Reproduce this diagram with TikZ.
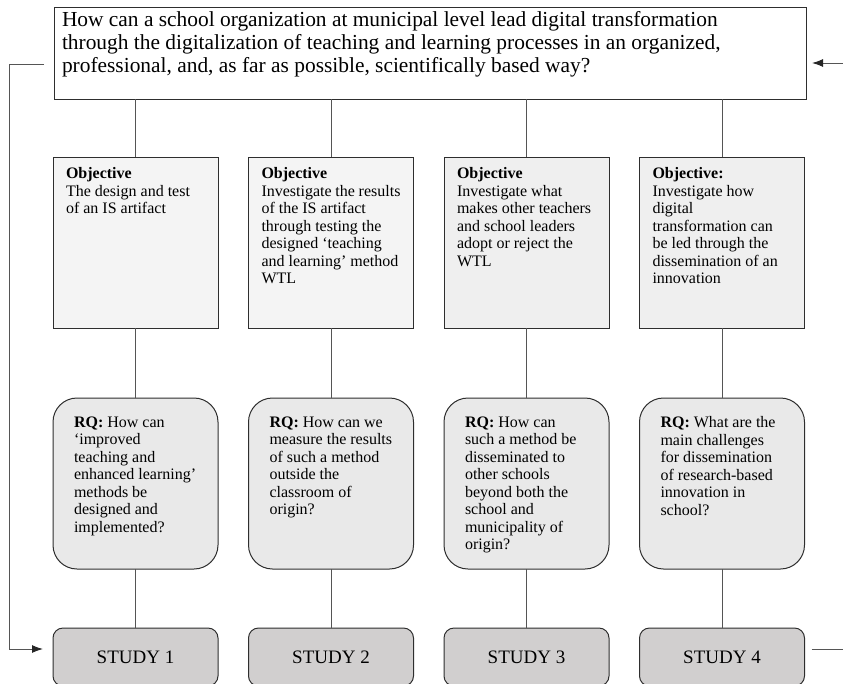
\documentclass[tikz,border=0pt]{standalone}
\usepackage{fontspec}
\setmainfont{Liberation Serif}
\usetikzlibrary{arrows.meta,positioning}
\definecolor{boxline}{HTML}{2E2E2E}
\definecolor{linegray}{HTML}{555555}
\definecolor{objfill}{HTML}{F4F4F4}
\definecolor{objfilldark}{HTML}{EFEFEF}
\definecolor{rqfill}{HTML}{E9E9E9}
\definecolor{studyfill}{HTML}{D1CFCF}

% text blocks, top aligned
\newcommand{\qtext}[1]{\parbox[t][84pt][t]{736pt}{\fontsize{21.4}{23}\selectfont\raggedright #1}}
\newcommand{\objtext}[1]{\parbox[t][150pt][t]{139pt}{\fontsize{16}{17.5}\selectfont\raggedright #1}}
\newcommand{\rqtext}[1]{\parbox[t][134.2pt][t]{123pt}{\fontsize{16}{17.5}\selectfont\raggedright #1}}

\begin{document}
\begin{tikzpicture}[
        x=1pt, y=-1pt,
        every node/.style={outer sep=0pt},
        conn/.style={draw=linegray, line width=1pt},
        loopconn/.style={conn, -{Latex[length=11pt,width=8pt,color=black!85]}},
        qbox/.style={
            draw=boxline, line width=1pt, fill=white,
            anchor=north west, inner xsep=8pt, inner ysep=4pt
        },
        objbox/.style={
            draw=boxline, line width=1pt, fill=objfill,
            inner xsep=13pt, inner ysep=10.5pt
        },
        rqbox/.style={
            draw=boxline, line width=1pt, fill=rqfill,
            rounded corners=24pt, inner xsep=21pt, inner ysep=18.4pt
        },
        studybox/.style={
            draw=boxline, line width=1pt, fill=studyfill,
            rounded corners=10pt, minimum width=165pt, minimum height=58pt,
            font=\fontsize{19}{22}\selectfont
        },
        node distance=30.5pt
    ]

    \useasboundingbox (0,0) rectangle (843,683);
    \clip (0,0) rectangle (843,683);

    % Main question
    \node[qbox] (q) at (54,7) {\qtext{How can a school organization at municipal level lead digital transformation\\
        through the digitalization of teaching and learning processes in an organized,\\
        professional, and, as far as possible, scientifically based way?}};

    % Objectives
    \node[objbox, anchor=north] (obj1) at (135.5,157) {\objtext{\textbf{Objective}\\The design and test\\of an IS artifact}};
    \node[objbox, right=of obj1] (obj2) {\objtext{\textbf{Objective}\\Investigate the results\\of the IS artifact\\through testing the\\designed `teaching\\and learning' method\\WTL}};
    \node[objbox, fill=objfilldark, right=of obj2] (obj3) {\objtext{\textbf{Objective}\\Investigate what\\makes other teachers\\and school leaders\\adopt or reject the\\WTL}};
    \node[objbox, fill=objfilldark, right=of obj3] (obj4) {\objtext{\textbf{Objective:}\\Investigate how\\digital\\transformation can\\be led through the\\dissemination of an\\innovation}};

    % Research questions
    \node[rqbox, below=70pt of obj1] (rq1) {\rqtext{\textbf{RQ:} How can\\`improved\\teaching and\\enhanced learning'\\methods be\\designed and\\implemented?}};
    \node[rqbox, below=70pt of obj2] (rq2) {\rqtext{\textbf{RQ:} How can we\\measure the results\\of such a method\\outside the\\classroom of\\origin?}};
    \node[rqbox, below=70pt of obj3] (rq3) {\rqtext{\textbf{RQ:} How can\\such a method be\\disseminated to\\other schools\\beyond both the\\school and\\municipality of\\origin?}};
    \node[rqbox, below=70pt of obj4] (rq4) {\rqtext{\textbf{RQ:} What are the\\main challenges\\for dissemination\\of research-based\\innovation in\\school?}};

    % Studies
    \node[studybox, below=59pt of rq1] (st1) {STUDY 1};
    \node[studybox, below=59pt of rq2] (st2) {STUDY 2};
    \node[studybox, below=59pt of rq3] (st3) {STUDY 3};
    \node[studybox, below=59pt of rq4] (st4) {STUDY 4};

    % Vertical links
    \foreach \i in {1,...,4} {
        \draw[conn] (obj\i.north |- q.south) -- (obj\i.north);
        \draw[conn] (obj\i) -- (rq\i);
        \draw[conn] (rq\i) -- (st\i);
    }

    % Feedback loops
    \coordinate (leftrail) at (9,0);
    \coordinate (rightrail) at (870,0);
    \coordinate (qout) at ([xshift=-10pt,yshift=-11pt]q.west);
    \coordinate (st1in) at ([xshift=-10pt,yshift=8pt]st1.west);
    \coordinate (st4out) at ([xshift=7pt,yshift=8pt]st4.east);
    \coordinate (qin) at ([xshift=6pt,yshift=-10pt]q.east);
    \draw[loopconn] (qout) -- (qout -| leftrail) -- (st1in -| leftrail) -- (st1in);
    \draw[loopconn] (st4out) -- (st4out -| rightrail) -- (qin -| rightrail) -- (qin);

\end{tikzpicture}
\end{document}
